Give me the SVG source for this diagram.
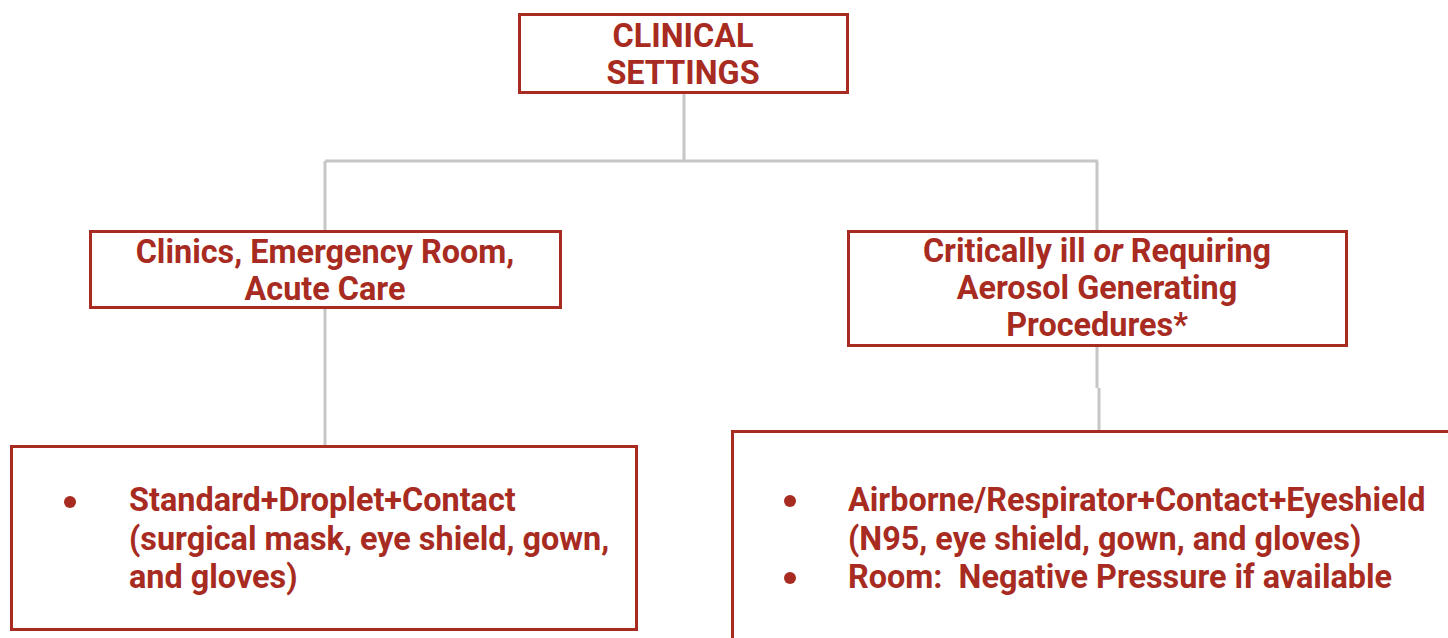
<svg xmlns="http://www.w3.org/2000/svg" width="1448" height="638" viewBox="0 0 1448 638">
<style>
.box{fill:#ffffff;stroke:#a82b22;stroke-width:3}
.h{font-family:Roboto,"Liberation Sans",sans-serif;font-weight:700;font-size:32.4px;fill:#a82b22;text-anchor:middle}
.b{font-family:Roboto,"Liberation Sans",sans-serif;font-weight:700;font-size:32.4px;fill:#a82b22;white-space:pre}
.conn{fill:none;stroke:#c6c6c6;stroke-width:3}
.dot{fill:#a82b22}
</style>
<rect width="1448" height="638" fill="#ffffff"/>
<g id="connectors">
<path class="conn" d="M684 93 V161 M325 161 H1098 M325 161 V231 M1097 161 V231"/>
<path class="conn" d="M325 308 V447"/>
<path class="conn" d="M1097 346 V388 M1099 388 V432"/>
</g>
<g id="clinical-settings">
<rect class="box" x="519.5" y="14.5" width="328" height="78"/>
<text class="h" x="683" y="47">CLINICAL</text>
<text class="h" x="683" y="84">SETTINGS</text>
</g>
<g id="clinics">
<rect class="box" x="90.5" y="231.5" width="470" height="76"/>
<text class="h" x="325" y="263">Clinics, Emergency Room,</text>
<text class="h" x="325" y="300">Acute Care</text>
</g>
<g id="critically-ill">
<rect class="box" x="848.5" y="231.5" width="498" height="114"/>
<text class="h" x="1097" y="262">Critically ill <tspan font-style="italic">or</tspan> Requiring</text>
<text class="h" x="1097" y="299">Aerosol Generating</text>
<text class="h" x="1097" y="336">Procedures*</text>
</g>
<g id="precautions-standard">
<rect class="box" x="11.5" y="446.5" width="625" height="183"/>
<circle class="dot" cx="70" cy="502" r="6"/>
<text class="b" x="129" y="511">Standard+Droplet+Contact</text>
<text class="b" x="129" y="550">(surgical mask, eye shield, gown,</text>
<text class="b" x="129" y="588">and gloves)</text>
</g>
<g id="precautions-airborne">
<path class="box" d="M732.5 650 V431.5 H1460"/>
<circle class="dot" cx="790" cy="501" r="6"/>
<text class="b" x="848" y="511">Airborne/Respirator+Contact+Eyeshield</text>
<text class="b" x="848" y="550">(N95, eye shield, gown, and gloves)</text>
<circle class="dot" cx="790" cy="578" r="6"/>
<text class="b" x="848" y="588">Room:  Negative Pressure if available</text>
</g>
</svg>
